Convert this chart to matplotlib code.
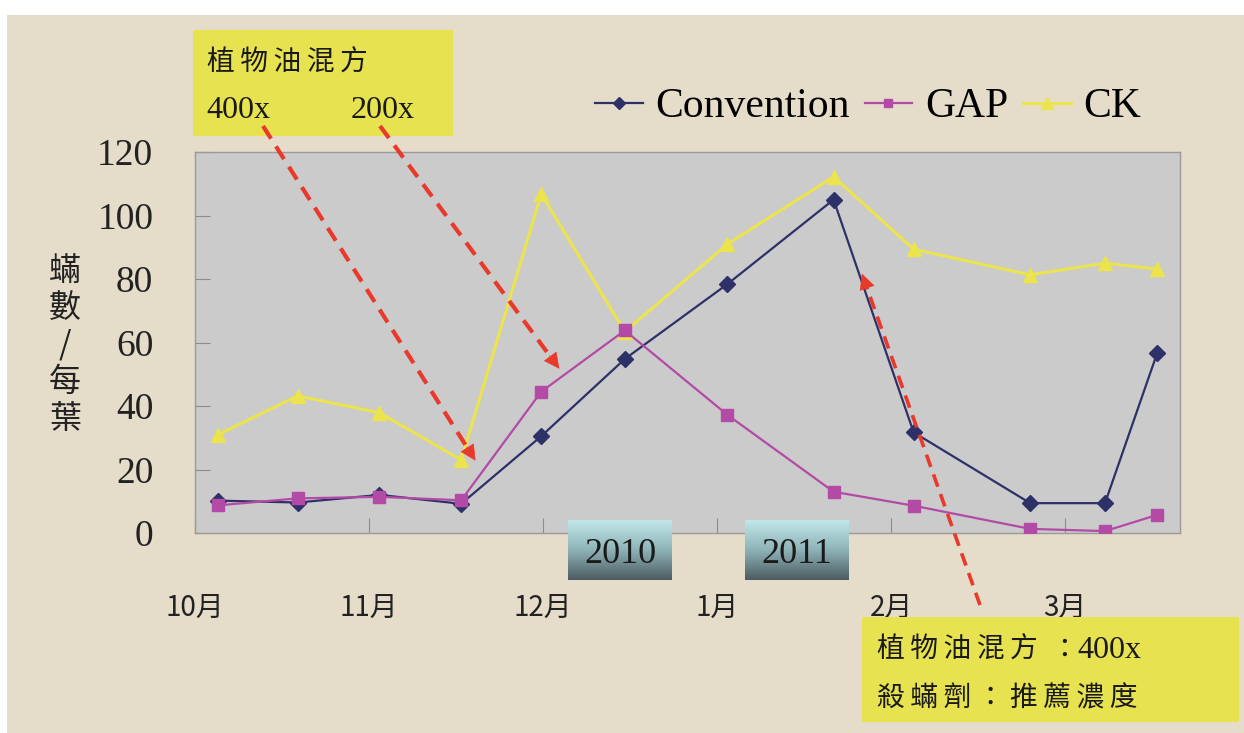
import numpy as np
import matplotlib
matplotlib.use("Agg")
import matplotlib.pyplot as plt
from matplotlib.patches import Rectangle, FancyArrowPatch
from matplotlib.lines import Line2D

plt.rcParams['font.family'] = ['Noto Sans CJK TC', 'DejaVu Sans']

# data
months = ['10月', '11月', '12月', '1月', '2月', '3月']
# sampling dates, in months from 1 Oct 2010
sample_pos = [0.13, 0.59, 1.06, 1.53, 1.99, 2.47, 3.06, 3.67, 4.13, 4.80, 5.23, 5.53]
convention = [10.2, 9.6, 12.0, 9.2, 30.5, 54.8, 78.4, 105.0, 31.7, 9.4, 9.4, 56.7]
gap = [8.7, 10.9, 11.4, 10.3, 44.5, 63.8, 37.2, 13.0, 8.6, 1.3, 0.6, 5.7]
ck = [30.9, 43.2, 37.9, 23.0, 106.8, 63.4, 91.0, 112.2, 89.4, 81.3, 85.0, 83.1]
series_names = ['Convention', 'GAP', 'CK']
years = ['2010', '2011']

W, H = 1244, 733
SERIF = 'Liberation Serif'


def fx(px):
    return px / W


def fy(py):
    return 1 - py / H


fig = plt.figure(figsize=(W / 100, H / 100), dpi=100, facecolor='white')

# beige card behind everything
fig.patches.append(Rectangle((fx(7), 0), 1, fy(15), transform=fig.transFigure,
                             facecolor='#e5dcc9', edgecolor='none', zorder=-10))

ax = fig.add_axes([fx(195), fy(533), fx(1180) - fx(195), fy(152) - fy(533)], zorder=1)
ax.set_facecolor('#cbcbcc')

ax.plot(sample_pos, convention, color='#2e3068', lw=1.6, marker='D', ms=8,
        label=series_names[0], zorder=3)
ax.plot(sample_pos, gap, color='#b34aa6', lw=1.6, marker='s', ms=8,
        label=series_names[1], zorder=4)
ax.plot(sample_pos, ck, color='#ece44c', lw=2.2, marker='^', ms=10,
        label=series_names[2], zorder=2)

ax.set_xlim(0, (1180 - 195) / 174)
ax.set_ylim(0, 120)
ax.set_yticks(np.arange(0, 121, 20))
ax.set_xticks(range(len(months)))
ax.set_xticklabels(months, fontsize=20, color='#222222')
for lab in ax.get_yticklabels():
    lab.set_fontfamily(SERIF)
    lab.set_fontsize(27)
    lab.set_color('#222222')
ax.tick_params(axis='y', direction='in', length=11, color='#8c8c8c', pad=30)
ax.tick_params(axis='x', direction='in', length=11, color='#8c8c8c', pad=43)
for s in ax.spines.values():
    s.set_color('#9a9a9a')
    s.set_linewidth(1.0)

fig.legend(loc='center left', bbox_to_anchor=(fx(595), fy(107)), ncol=3,
           frameon=False, prop={'family': SERIF, 'size': 30},
           handlelength=1.15, handletextpad=0.3, columnspacing=0.35,
           borderaxespad=0, borderpad=0, markerscale=0.8)

# y label, stacked characters
fig.text(fx(65), fy(345), '蟎\n數\n/\n每\n葉', ha='center', va='center',
         fontsize=23, linespacing=1.2, color='#222222')

# year boxes with gradient
grad = np.linspace(0, 1, 64).reshape(-1, 1)
cmap = matplotlib.colors.LinearSegmentedColormap.from_list('yr', ['#c2e8ea', '#8fb4b8', '#4d5c63'])
for (x0, x1), yr in zip([(568, 672), (745, 849)], years):
    bax = fig.add_axes([fx(x0), fy(580), fx(x1) - fx(x0), fy(520) - fy(580)], zorder=5)
    bax.imshow(grad, aspect='auto', cmap=cmap, extent=(0, 1, 0, 1))
    bax.set_axis_off()
    bax.text(0.5, 0.42, yr, ha='center', va='center', fontsize=26,
             family=SERIF, color='#1a1a1a')

# yellow notes
note_c = '#e7e24f'
ts = '\u2009'
fig.patches.append(Rectangle((fx(193), fy(136)), fx(453) - fx(193), fy(30) - fy(136),
                             transform=fig.transFigure, facecolor=note_c, edgecolor='none', zorder=6))
fig.text(fx(207), fy(63), ts.join('植物油混方'), ha='left', va='center', fontsize=20,
         color='#1a1a1a', zorder=7)
fig.text(fx(206), fy(111), '400x', ha='left', va='center', fontsize=23,
         family=SERIF, color='#1a1a1a', zorder=7)
fig.text(fx(351), fy(111), '200x', ha='left', va='center', fontsize=23,
         family=SERIF, color='#1a1a1a', zorder=7)

fig.patches.append(Rectangle((fx(862), fy(722)), fx(1239) - fx(862), fy(617) - fy(722),
                             transform=fig.transFigure, facecolor=note_c, edgecolor='none', zorder=6))
fig.text(fx(877), fy(650), ts.join('植物油混方'), ha='left', va='center',
         fontsize=20, color='#1a1a1a', zorder=7)
fig.text(fx(1050), fy(650), '：', ha='left', va='center',
         fontsize=20, color='#1a1a1a', zorder=7)
fig.text(fx(1077), fy(650), '400x', ha='left', va='center', fontsize=23,
         family=SERIF, color='#1a1a1a', zorder=7)
fig.text(fx(877), fy(698), ts.join('殺蟎劑：推薦濃度'), ha='left', va='center',
         fontsize=20, color='#1a1a1a', zorder=7)

# red dashed arrows
red = '#e8392b'
arrows = [((263, 126), (477, 463), 3.0),
          ((380, 126), (561, 371), 3.0),
          ((980, 605), (861, 271), 2.6)]
for (x0, y0), (x1, y1), lw in arrows:
    dx, dy = x1 - x0, y1 - y0
    d = np.hypot(dx, dy)
    ux, uy = dx / d, dy / d
    bx, by = x1 - ux * 16, y1 - uy * 16
    fig.add_artist(Line2D([fx(x0), fx(bx)], [fy(y0), fy(by)], transform=fig.transFigure,
                          color=red, lw=lw, dashes=(3.6, 2.2), zorder=8))
    fig.add_artist(FancyArrowPatch((fx(x1 - ux * 22), fy(y1 - uy * 22)), (fx(x1), fy(y1)),
                                   transform=fig.transFigure, arrowstyle='-|>',
                                   mutation_scale=26, color=red, lw=0.5, zorder=8))

fig.savefig('out.png', dpi=100, facecolor='white')
